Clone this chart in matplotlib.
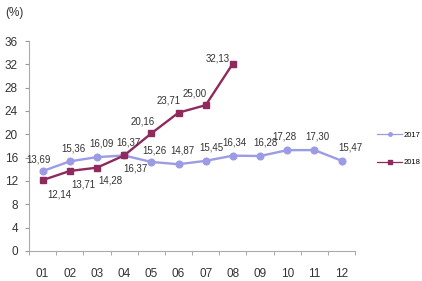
import matplotlib
matplotlib.use("Agg")
import matplotlib.pyplot as plt
from matplotlib.lines import Line2D

plt.rcParams["font.family"] = ["Liberation Sans Narrow", "Liberation Sans", "DejaVu Sans"]

months = ["01", "02", "03", "04", "05", "06", "07", "08", "09", "10", "11", "12"]
vals_2017 = [13.69, 15.36, 16.09, 16.37, 15.26, 14.87, 15.45, 16.34, 16.28, 17.28, 17.30, 15.47]
vals_2018 = [12.14, 13.71, 14.28, 16.37, 20.16, 23.71, 25.00, 32.13]
yticks = [0, 4, 8, 12, 16, 20, 24, 28, 32, 36]

c17 = "#9b9be6"
c18 = "#8e2a5c"
txt = "#333333"

# label offsets in points (dx, dy)
off17 = [(-3, 5), (3, 6), (3, 6), (3, 6), (2, 5), (3, 6), (4, 6), (1, 6), (4, 6), (-2, 6), (2, 6), (6, 6)]
off18 = [(12, -14), (10, -13), (10, -13), (8, -13), (-6, 5), (-7, 5), (-8, 5), (-11, 0)]

def fmt(v):
    return f"{v:.2f}".replace(".", ",")

fig = plt.figure(figsize=(4.22, 2.81), dpi=100)
ax = fig.add_axes([0.0687, 0.107, 0.773, 0.747])

x = list(range(len(months)))
ax.plot(x, vals_2017, color=c17, lw=1.7, marker="o", ms=4.8, zorder=2)
ax.plot(x[:len(vals_2018)], vals_2018, color=c18, lw=1.7, marker="s", ms=4.8, zorder=3)

for i, v in enumerate(vals_2017):
    ax.annotate(fmt(v), (i, v), xytext=off17[i], textcoords="offset points",
                ha="center", va="bottom", fontsize=7, color=txt)
for i, v in enumerate(vals_2018):
    ax.annotate(fmt(v), (i, v), xytext=off18[i], textcoords="offset points",
                ha="center", va="bottom", fontsize=7, color=txt)

ax.set_xlim(-0.5, 11.5)
ax.set_ylim(0, 36)
ax.set_yticks(yticks)
ax.set_xticks(x)
ax.set_xticklabels(months)
ax.set_xticks([i - 0.5 for i in range(13)], minor=True)
ax.tick_params(axis="x", which="major", length=0, pad=12, labelsize=8.5, colors=txt)
ax.tick_params(axis="x", which="minor", length=3, color="#999999")
ax.tick_params(axis="y", length=3, color="#999999", labelsize=8.5, colors=txt, pad=5)
for side in ["top", "right"]:
    ax.spines[side].set_visible(False)
for side in ["left", "bottom"]:
    ax.spines[side].set_color("#aaaaaa")
    ax.spines[side].set_linewidth(0.8)

fig.text(0.012, 0.955, "(%)", fontsize=8.5, color=txt, va="center")

handles = [Line2D([], [], color=c17, lw=0.9, marker="o", ms=2.5),
           Line2D([], [], color=c18, lw=0.9, marker="s", ms=2.5)]
fig.legend(handles, ["2017", "2018"], loc="center left", bbox_to_anchor=(0.885, 0.47),
           frameon=False, fontsize=5.5, handlelength=3.2, labelspacing=2.6,
           handletextpad=0.3, borderpad=0)

fig.savefig("out.png", dpi=100)
